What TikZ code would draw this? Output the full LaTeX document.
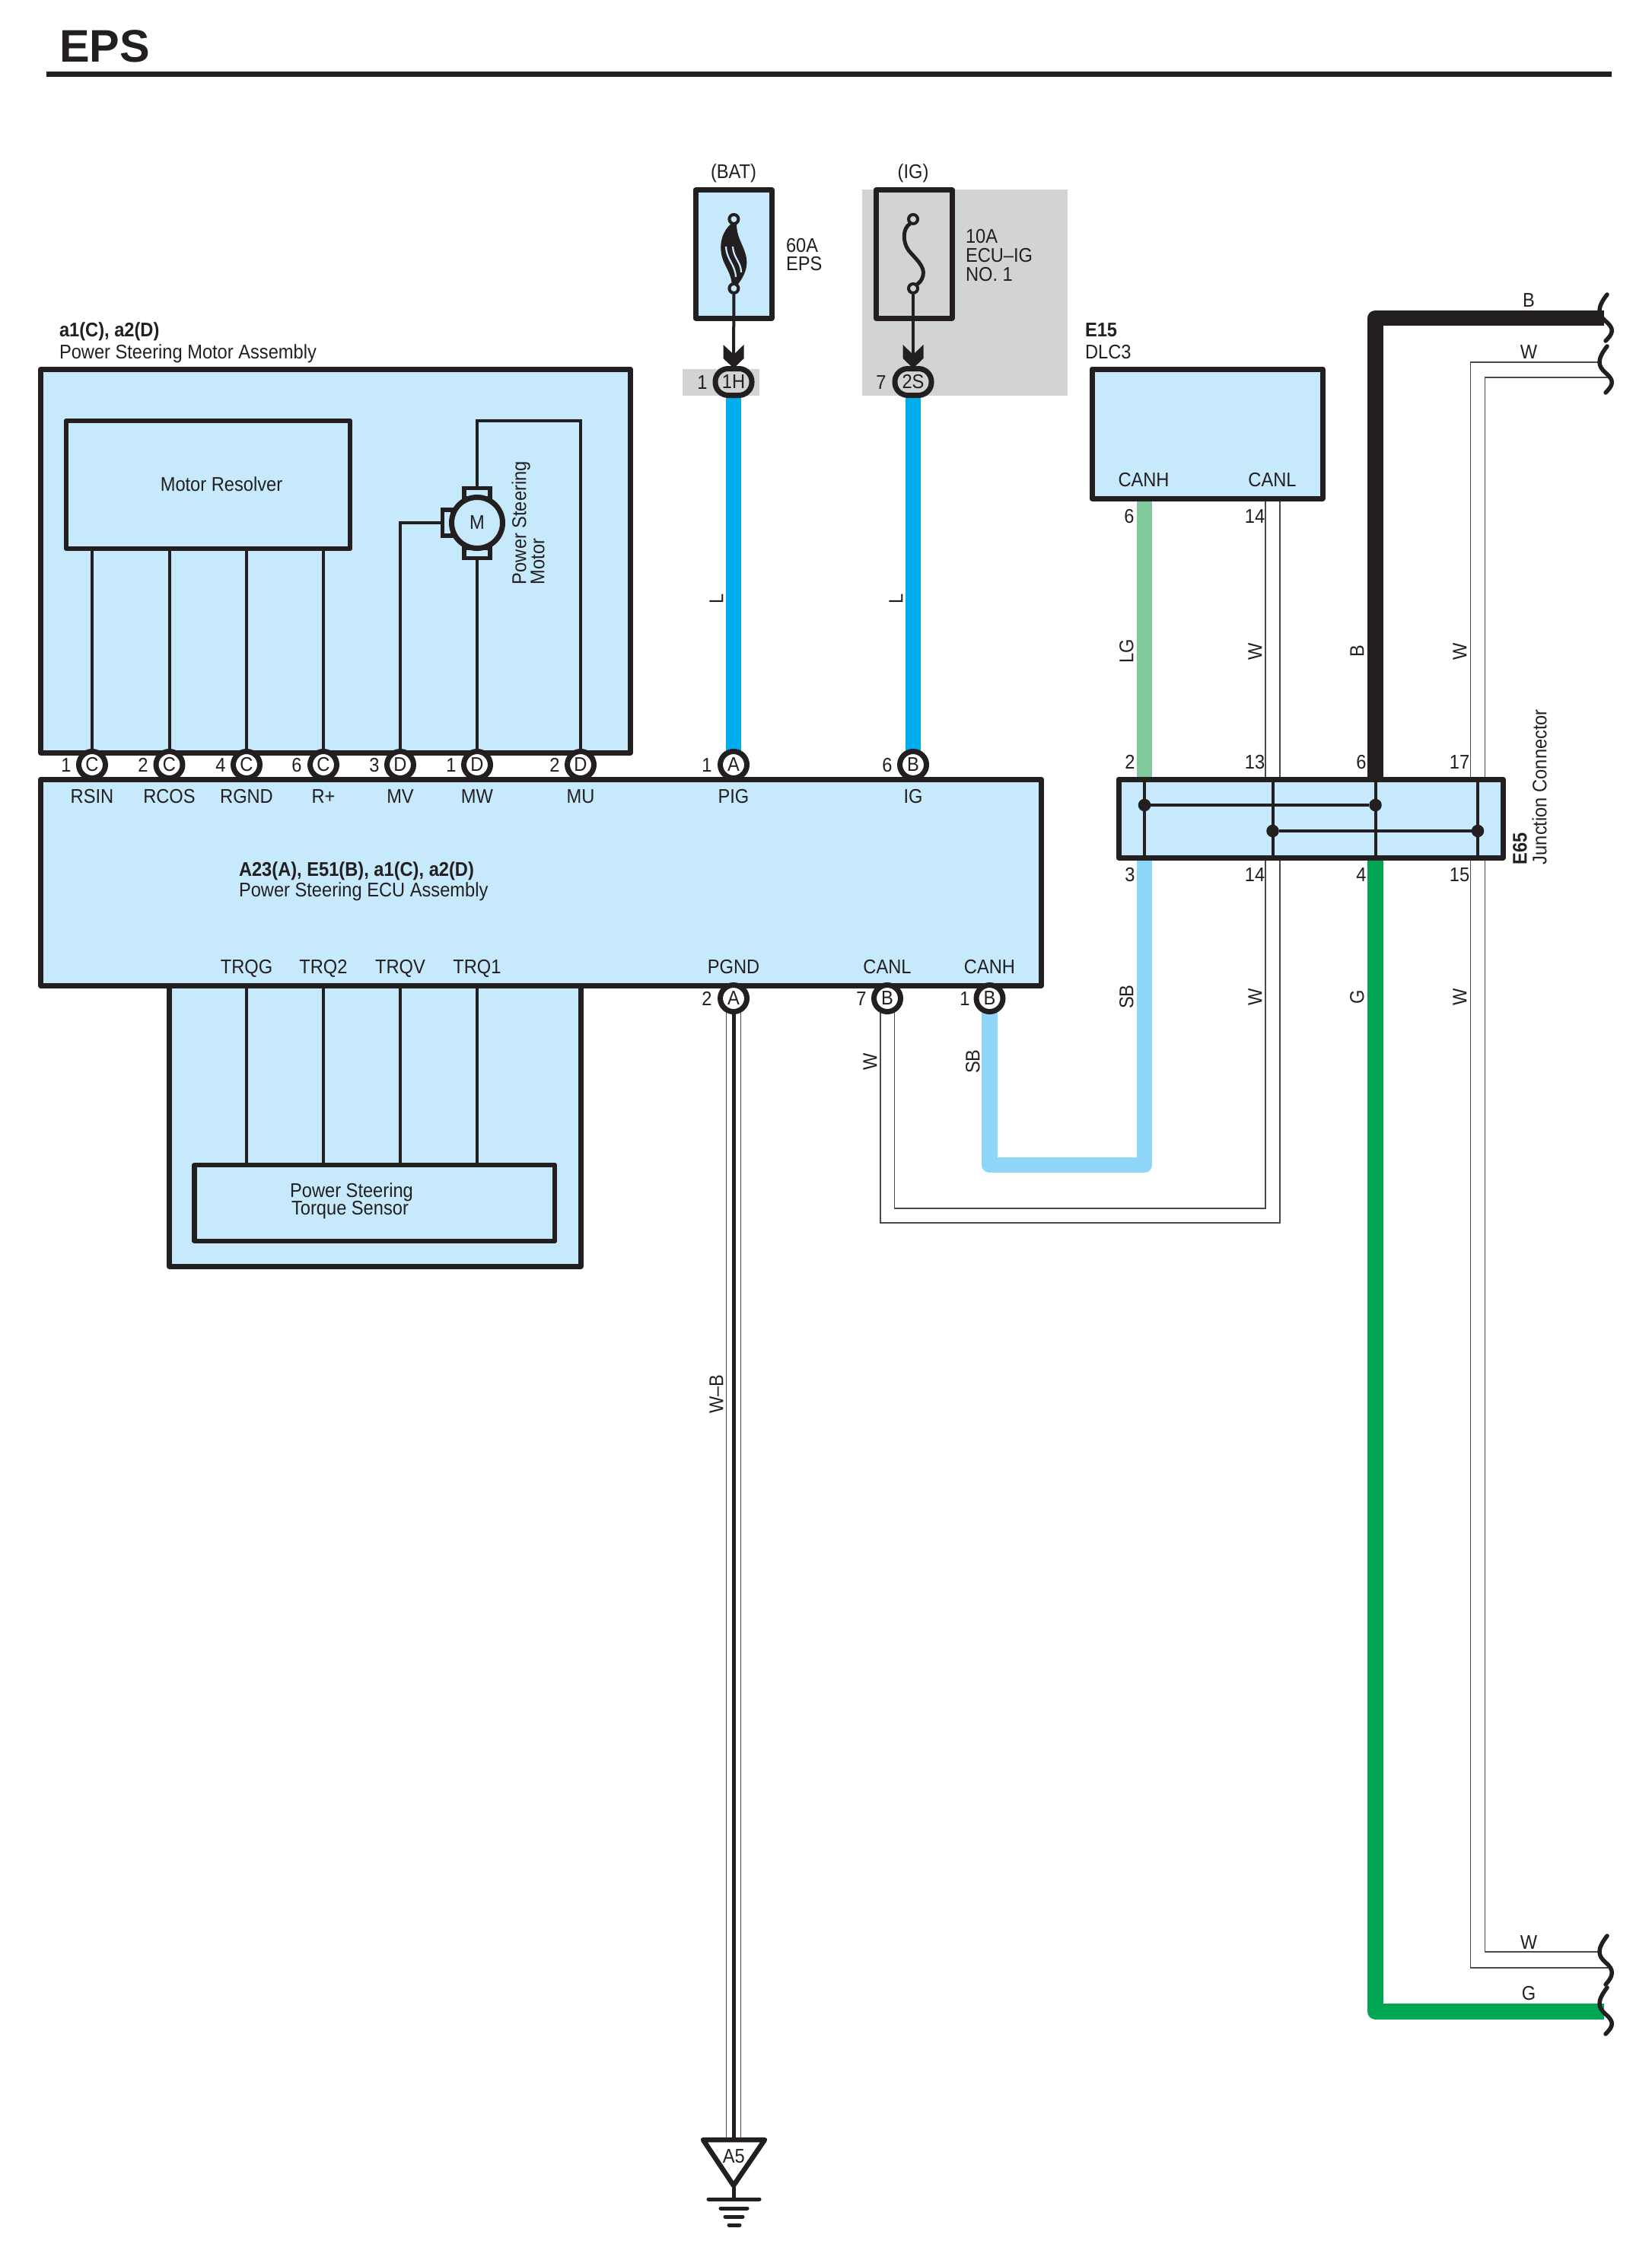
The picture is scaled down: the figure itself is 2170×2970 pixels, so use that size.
\documentclass[tikz,border=0pt]{standalone}
\usepackage{fontspec}
\setmainfont{Liberation Sans}[FakeStretch=0.91]
\newfontfamily\titlefont{Liberation Sans}[FakeStretch=0.99]
\definecolor{ink}{HTML}{231F20}
\definecolor{pale}{HTML}{C7E9FC}
\definecolor{greyb}{HTML}{D1D3D4}
\definecolor{wireL}{HTML}{00AEEF}
\definecolor{wireLG}{HTML}{80C99A}
\definecolor{wireSB}{HTML}{8FD6F9}
\definecolor{wireG}{HTML}{00A651}
\definecolor{thinw}{HTML}{4A4A4A}
\pgfdeclarelayer{base}
\pgfdeclarelayer{wires}
\pgfsetlayers{base,wires,main}
\tikzset{
  lbl/.style={inner sep=0pt,outer sep=0pt,text=ink,text height=18.6pt,text depth=0pt,font=\fontsize{26}{28}\selectfont},
  lft/.style={lbl,anchor=west},
  rot/.style={lbl,rotate=90},
  rotl/.style={lbl,rotate=90,anchor=west},
  boldt/.style={font=\fontsize{26}{28}\selectfont\bfseries},
  boxn/.style={draw=ink,fill=pale,line width=7pt,inner sep=0pt,outer sep=0pt,line join=round},
  inbox/.style={draw=ink,line width=6.5pt,inner sep=0pt,outer sep=0pt,line join=round,fill=pale},
  pinc/.style={circle,draw=ink,fill=white,line width=7pt,minimum size=35pt,inner sep=0pt,outer sep=0pt,text=ink,font=\fontsize{26}{28}\selectfont},
  pino/.style={rectangle,rounded corners=17pt,draw=ink,fill=greyb,line width=7pt,minimum width=48pt,minimum height=35pt,inner sep=0pt,outer sep=0pt,text=ink,font=\fontsize{26}{28}\selectfont},
  thin wire/.style={draw=ink,line width=4pt,line join=miter},
  colw/.style={line width=20.5pt,line join=round},
  wthin/.style={draw=thinw,line width=1.9pt,line join=miter},
  dotn/.style={circle,fill=ink,minimum size=16.5pt,inner sep=0pt,outer sep=0pt},
  squig/.style={draw=ink,line width=5.5pt,line cap=round},
  gbar/.style={draw=ink,line width=5pt,line cap=round}
}
\begin{document}
\begin{tikzpicture}[x=1pt,y=-1pt]
\useasboundingbox (0,0) rectangle (2170,2970);

% grey backgrounds
\begin{pgfonlayer}{base}
\fill[white] (0,0) rectangle (2170,2970);
\fill[greyb] (1133,249) rectangle (1403,520);
\fill[greyb] (897,485) rectangle (998,520);
\end{pgfonlayer}

% title
\node[lbl,anchor=west,text height=43pt,font=\fontsize{60}{62}\selectfont\titlefont\bfseries] (title) at (78,60) {EPS};
\coordinate (ruleA) at (61,98); \coordinate (ruleB) at (2118,98);
\draw[ink,line width=7pt] (ruleA) -- (ruleB);

% main boxes
\node[boxn,minimum width=775pt,minimum height=504pt] (motorasm) at (441,737) {};
\node[boxn,minimum width=540.5pt,minimum height=369pt] (sensorasm) at (492.75,1479.5) {};
\node[boxn,minimum width=1315pt,minimum height=271pt] (ecu) at (711,1159.5) {};
\node[boxn,minimum width=303pt,minimum height=170pt] (dlc) at (1586.5,570) {};
\node[boxn,minimum width=505pt,minimum height=103pt] (jc) at (1722.5,1075.5) {};
\node[boxn,minimum width=100pt,minimum height=168pt] (fuseB) at (964,334) {};
\node[boxn,fill=greyb,minimum width=100pt,minimum height=168pt] (fuseI) at (1201,334) {};
\node[inbox,minimum width=373pt,minimum height=168pt] (resolver) at (273.5,637) {};
\node[inbox,minimum width=473.5pt,minimum height=100pt] (torque) at (492.25,1581) {};
\node[lbl] (tresolver) at (291,636) {Motor Resolver};
\node[lbl] (ttq1) at (462,1564) {Power Steering};
\node[lbl] (ttq2) at (460,1587) {Torque Sensor};

% pins
\foreach \n/\x/\t in {c1/121/C,c2/222.5/C,c3/324/C,c4/425/C,d1/526/D,d2/627/D,d3/763/D,pa/964/A,pb/1200/B}
  \coordinate (\n) at (\x,1005);
\foreach \n/\x in {q1/964,q2/1166,q3/1300.5}
  \coordinate (\n) at (\x,1312);
\coordinate (h1) at (964,502); \coordinate (h2) at (1200,502);

% terminals
\coordinate (lgT) at (1504,655);
\coordinate (canlT) at (1672.5,655);
\coordinate (jA) at (1504,1075);
\coordinate (jB) at (1672.5,1075);
\coordinate (jC) at (1807.5,1075);
\coordinate (jD) at (1942,1075);
\coordinate (brkB) at (2108,418);
\coordinate (brkG) at (2108,2643.5);
\coordinate (sbLow) at (0,1531);
\coordinate (gndTop) at (964,2812);

% coloured wires, under the box outlines
\begin{pgfonlayer}{wires}
\draw[wireL,colw] (h1) -- (pa);
\draw[wireL,colw] (h2) -- (pb);
\draw[wireLG,colw] (lgT) -- (jA);
\draw[wireSB,colw] (jA) -- (jA |- sbLow) -| (q3);
\draw[ink,colw] (brkB) -| (jC);
\draw[wireG,colw] (jC) |- (brkG);
% W pair E15 CANL to ECU CANL
\draw[wthin] (1682,655) -- (1682,1607) -- (1157,1607) -- (1157,1312);
\draw[wthin] (1663,655) -- (1663,1588) -- (1175.5,1588) -- (1175.5,1312);
% W pair at right
\draw[wthin] (2103,476) -- (1932.5,476) -- (1932.5,2586) -- (2113,2586);
\draw[wthin] (2113,496) -- (1951.5,496) -- (1951.5,2565) -- (2103,2565);
% W-B ground wire
\draw[wthin] (954.5,1312) -- (954.5,2812);
\draw[wthin] (973.5,1312) -- (973.5,2812);
\draw[ink,line width=5pt] (q1) -- (gndTop);
\end{pgfonlayer}

% wires inside the assemblies
\foreach \n in {c1,c2,c3,c4}
  \draw[thin wire] (\n) -- (resolver.south -| \n);
\coordinate (mot) at (627,687);
\coordinate (mtop) at (627,553);
\draw[thin wire] (d1) |- (mot);
\draw[thin wire] (d2) -- (mot);
\draw[thin wire] (mot) -- (mtop) -| (d3);
\foreach \x in {324,425,526,627}
  \draw[thin wire] (\x,1295) -- (\x,1531);

% motor
\node[draw=ink,fill=pale,line width=5.5pt,minimum width=34pt,minimum height=13pt,inner sep=0pt] (brT) at (627,648) {};
\node[draw=ink,fill=pale,line width=5.5pt,minimum width=34pt,minimum height=13pt,inner sep=0pt] (brB) at (627,727) {};
\node[draw=ink,fill=pale,line width=5.5pt,minimum width=13pt,minimum height=34pt,inner sep=0pt] (brL) at (588,687) {};
\node[circle,draw=ink,fill=pale,line width=7pt,minimum size=67pt,inner sep=0pt,text=ink,font=\fontsize{26}{28}\selectfont] (motor) at (mot) {M};
\node[rotl] (tpsm1) at (682,768) {Power Steering};
\node[rotl] (tpsm2) at (706,768) {Motor};

% fuses
\fill[ink] (961,294) .. controls (950,303) and (944,320) .. (949,338) .. controls (953,352) and (961,358) .. (962,376) -- (968,376) .. controls (979,362) and (984,350) .. (980,335) .. controls (976,320) and (968,312) .. (968,294) -- cycle;
\draw[pale,line width=2.2pt] (954,324) .. controls (955,342) and (966,347) .. (967,364);
\draw[pale,line width=2.2pt] (963,324) .. controls (964,340) and (974,344) .. (974,358);
\draw[ink,line width=5pt] (1196,294) .. controls (1186,300) and (1186,318) .. (1194,329) .. controls (1203,340) and (1216,350) .. (1213,362) .. controls (1211,370) and (1208,371) .. (1204,375);
\node[circle,draw=ink,fill=pale,line width=4pt,minimum size=12pt,inner sep=0pt] (fb1) at (964.4,288) {};
\node[circle,draw=ink,fill=pale,line width=4pt,minimum size=12pt,inner sep=0pt] (fb2) at (964.4,379) {};
\node[circle,draw=ink,fill=greyb,line width=4pt,minimum size=12pt,inner sep=0pt] (fi1) at (1200,288) {};
\node[circle,draw=ink,fill=greyb,line width=4pt,minimum size=12pt,inner sep=0pt] (fi2) at (1200,379) {};
\draw[ink,line width=4pt] (fb2) -- (h1);
\draw[ink,line width=4pt] (fi2) -- (h2);

% pin nodes
\foreach \n/\t in {c1/C,c2/C,c3/C,c4/C,d1/D,d2/D,d3/D,pa/A,pb/B}
  \node[pinc] (N\n) at (\n) {\t};
\foreach \n/\t in {q1/A,q2/B,q3/B}
  \node[pinc] (N\n) at (\n) {\t};
\node[pino] (N1H) at (h1) {1H};
\node[pino] (N2S) at (h2) {2S};
% arrowheads
\fill[ink] (950.5,453) -- (964.4,466) -- (977.5,453) -- (977.5,471) -- (964.4,484) -- (950.5,471) -- cycle;
\fill[ink] (1186.5,453) -- (1200,466) -- (1213.5,453) -- (1213.5,471) -- (1200,484) -- (1186.5,471) -- cycle;

% E65 internals
\foreach \n in {jA,jB,jC,jD}
  \draw[thin wire] (\n |- jc.north) -- (\n |- jc.south);
\node[dotn] (dA) at (1504,1058) {};
\node[dotn] (dC) at (1807.5,1058) {};
\node[dotn] (dB) at (1672.5,1092) {};
\node[dotn] (dD) at (1942,1092) {};
\draw[thin wire] (dA) -- (dC);
\draw[thin wire] (dB) -- (dD);

% ground symbol
\node[lbl] (ta5) at (964.3,2833) {A5};
\coordinate (gndApex) at (964,2872);
\draw[ink,line width=6.5pt,line join=round] (924,2812) -- (1005,2812) -- (gndApex) -- cycle;
\coordinate (gndBar) at (964,2890);
\draw[ink,line width=5pt] (gndApex) -- (gndBar);
\draw[gbar] (931,2890) -- (998,2890);
\draw[gbar] (947,2902) -- (982,2902);
\draw[gbar] (953,2913) -- (976,2913);
\draw[gbar] (958,2924) -- (972,2924);

% squiggles
\draw[squig] (2112,387) .. controls (2098,405) and (2100,413) .. (2110,422) .. controls (2122,432) and (2120,438) .. (2110,448);
\draw[squig] (2112,455) .. controls (2098,473) and (2100,481) .. (2110,490) .. controls (2122,500) and (2120,506) .. (2110,516);
\draw[squig] (2112,2544) .. controls (2098,2562) and (2100,2570) .. (2110,2579) .. controls (2122,2589) and (2120,2597) .. (2110,2608);
\draw[squig] (2112,2612) .. controls (2098,2630) and (2100,2638) .. (2110,2647) .. controls (2122,2657) and (2120,2663) .. (2110,2673);

% top labels
\node[lbl] (tbat) at (964,225) {(BAT)};
\node[lbl] (tig) at (1200,225) {(IG)};
\node[lft] (t60a) at (1033,322) {60A};
\node[lft] (teps) at (1033,346) {EPS};
\node[lft] (t10a) at (1269,310) {10A};
\node[lft] (tecu) at (1269,335) {ECU–IG};
\node[lft] (tno) at (1269,360) {NO. 1};
\node[lbl] (n1h) at (923,502) {1};
\node[lbl] (n2s) at (1158,502) {7};
\node[lft,boldt] (ta1) at (78,433) {a1(C), a2(D)};
\node[lft] (tpsma) at (78,462) {Power Steering Motor Assembly};
\node[lft,boldt] (te15) at (1426,433) {E15};
\node[lft] (tdlc) at (1426,462) {DLC3};
\node[lbl] (tcanh) at (1503,630) {CANH};
\node[lbl] (tcanl) at (1672,630) {CANL};

% pin numbers upper row
\foreach \x/\t in {87/1,188/2,290/4,390/6,492/3,593/1,729/2,929/1,1166/6}
  \node[lbl] at (\x,1005) {\t};
% ECU labels
\foreach \x/\t in {121/RSIN,222.5/RCOS,324/RGND,425/R+,526/MV,627/MW,763/MU,964/PIG,1200/IG}
  \node[lbl] at (\x,1046) {\t};
\foreach \x/\t in {324/TRQG,425/TRQ2,526/TRQV,627/TRQ1,964/PGND,1166/CANL,1300.5/CANH}
  \node[lbl] at (\x,1270) {\t};
\node[lft,boldt] (tecu1) at (314,1142) {A23(A), E51(B), a1(C), a2(D)};
\node[lft] (tecu2) at (314,1169) {Power Steering ECU Assembly};
\foreach \x/\t in {929/2,1132/7,1268/1}
  \node[lbl] at (\x,1312) {\t};

% E65 pin numbers
\foreach \x/\a/\b in {1485/2/3,1649/13/14,1789/6/4,1918/17/15}{
  \node[lbl] at (\x,1001) {\a};
  \node[lbl] at (\x,1149) {\b};
}
\node[lbl] at (1484,678) {6};
\node[lbl] at (1649,678) {14};

% wire colour labels
\foreach \x/\y/\t in {941/787/L,1177/787/L,1480/856/LG,1649/856/W,1783/856/B,1918/856/W,1480/1310/SB,1649/1310/W,1783/1310/G,1918/1310/W,1143/1395/W,1278/1395/SB,941/1832/W–B}
  \node[rot] at (\x,\y) {\t};
\node[lbl] at (2009,394) {B};
\node[lbl] at (2009,462) {W};
\node[lbl] at (2009,2552) {W};
\node[lbl] at (2009,2619) {G};
\node[rotl,boldt] (te65) at (1997,1136) {E65};
\node[rotl] (tjc) at (2023,1136) {Junction Connector};
\end{tikzpicture}
\end{document}
